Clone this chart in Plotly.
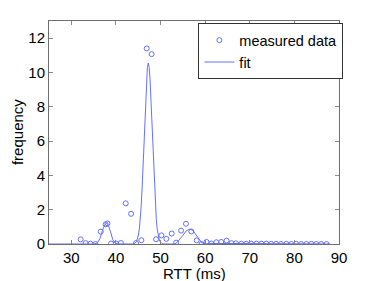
import plotly.graph_objects as go

# measured data (RTT in ms, frequency)
rtt = [32.1, 33.2, 34.3, 35.4, 36.6, 37.7, 38.1, 38.9, 40.0, 41.1, 42.2, 43.4,
       44.5, 45.7, 46.9, 48.0, 49.0, 50.2, 51.3, 52.5, 53.5, 54.6, 55.7, 56.9,
       58.1, 59.2, 60.3, 61.4, 62.5, 63.6, 64.8, 65.9, 66.9, 68.1, 69.2, 70.3,
       71.5, 72.6, 73.7, 74.8, 75.9, 77.0, 78.2, 79.3, 80.4, 81.5, 82.7, 83.8,
       84.9, 86.0, 87.2]
freq = [0.27, 0.05, 0.02, 0.0, 0.72, 1.15, 1.2, 0.03, 0.03, 0.06, 2.37, 1.76,
        0.05, 0.22, 11.4, 11.07, 0.28, 0.5, 0.3, 0.61, 0.08, 0.78, 1.18, 0.73,
        0.21, 0.0, 0.12, 0.03, 0.1, 0.12, 0.2, 0.05, 0.04, 0.02, 0.01, 0.02,
        0.02, 0.02, 0.02, 0.01, 0.01, 0.0, 0.01, 0.0, 0.01, 0.0, 0.0, 0.01,
        0.0, 0.0, 0.0]

# fitted curve
fit_x = [25.0, 35.0, 35.8, 36.4, 37.0, 37.5, 37.9, 38.3, 38.8, 39.3, 39.8, 40.5,
         43.9, 44.25, 44.45, 44.65, 44.85, 45.05, 45.25, 45.45, 45.65, 45.85,
         46.05, 46.25, 46.45, 46.65, 46.85, 47.05, 47.25, 47.45, 47.65, 47.85,
         48.05, 48.25, 48.45, 48.65, 48.85, 49.05, 49.25, 49.45, 49.65, 49.85,
         50.05, 50.25, 50.6,
         53.0, 53.6, 54.3, 55.0, 55.7, 56.5, 57.2, 57.9, 58.6, 59.3, 60.0,
         61.0, 66.0, 72.0, 88.0]
fit_y = [0.0, 0.0, 0.05, 0.3, 0.8, 1.12, 1.22, 1.1, 0.7, 0.25, 0.05, 0.0,
         0.0, 0.04, 0.08, 0.16, 0.30, 0.53, 0.89, 1.43, 2.17, 3.15,
         4.34, 5.69, 7.11, 8.45, 9.56, 10.30, 10.55, 10.30, 9.56, 8.45,
         7.11, 5.69, 4.34, 3.15, 2.17, 1.43, 0.89, 0.53, 0.30, 0.16,
         0.08, 0.04, 0.0,
         0.0, 0.06, 0.25, 0.5, 0.75, 0.87, 0.8, 0.55, 0.25, 0.06, 0.0,
         0.03, 0.03, 0.01, 0.0]

x_ticks = [30, 40, 50, 60, 70, 80, 90]
y_ticks = [0, 2, 4, 6, 8, 10, 12]

blue = "#6470ff"
FAM = "Liberation Sans, Arial, sans-serif"
tick_font = dict(family=FAM, size=15, color="black")
title_font = dict(family=FAM, size=15, color="black")
legend_font = dict(family=FAM, size=14.5, color="black")

fig = go.Figure()
fig.add_trace(go.Scatter(
    x=rtt, y=freq, mode="markers", name="measured data",
    marker=dict(symbol="circle-open", size=5, color=blue, line=dict(width=1, color=blue)),
))
fig.add_trace(go.Scatter(
    x=fit_x, y=fit_y, mode="lines", name="fit",
    line=dict(color=blue, width=1),
))

axis_common = dict(
    showgrid=False, zeroline=False, showline=True, mirror="ticks",
    linecolor="#6e6e6e", linewidth=1, ticks="inside", ticklen=4,
    tickcolor="#8a8a8a", tickfont=tick_font, automargin=False,
)
fig.update_xaxes(range=[25, 90], tickvals=x_ticks, **axis_common)
fig.update_yaxes(range=[0, 13], tickvals=y_ticks, **axis_common)

fig.add_annotation(text="RTT (ms)", xref="paper", yref="paper", x=0.503, y=0,
                   yshift=-29, xanchor="center", yanchor="middle",
                   showarrow=False, font=title_font)
fig.add_annotation(text="frequency", xref="paper", yref="paper", x=0, y=0.502,
                   xshift=-32, xanchor="center", yanchor="middle", textangle=-90,
                   showarrow=False, font=title_font)

fig.update_layout(
    width=374, height=281,
    margin=dict(l=49, r=35, t=21, b=37),
    paper_bgcolor="white", plot_bgcolor="white",
    showlegend=True,
    legend=dict(x=0.515, y=0.99, xanchor="left", yanchor="top",
                bordercolor="#333333", borderwidth=1, bgcolor="white",
                font=legend_font, tracegroupgap=0, itemwidth=30),
)

fig.write_html("out.html", config={"displayModeBar": False},
               post_script="document.body.style.margin='0';document.body.style.padding='0';")
